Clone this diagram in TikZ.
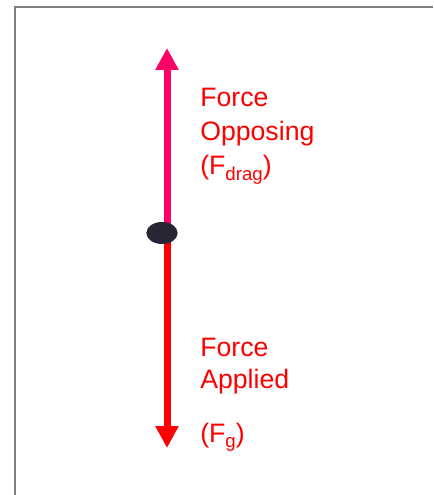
\documentclass[tikz,border=0pt]{standalone}
\usepackage{fontspec}
\setmainfont{Liberation Sans}
\usetikzlibrary{arrows.meta, positioning, shapes.geometric}
\definecolor{dragpink}{RGB}{255,0,102}
\definecolor{gravred}{RGB}{255,0,0}
\definecolor{ballnavy}{RGB}{38,38,52}
\definecolor{framegray}{RGB}{128,128,128}
\newcommand{\forcesub}[1]{\raisebox{-4pt}{\fontsize{14}{14}\selectfont #1}}

\begin{document}
\begin{tikzpicture}[
  x=0.75pt, y=-0.75pt,
  label/.style={anchor=base west, inner sep=0pt, align=left, text=gravred,
    font=\fontsize{20}{25.5}\selectfont},
  forcearrow/.style={line width=5.25pt, -{Triangle[length=16.5pt, width=16.5pt]}},
  ball/.style={ellipse, fill=ballnavy, minimum width=23.5pt, minimum height=16.5pt, inner sep=0pt}
]
  \useasboundingbox (0,0) rectangle (433,495);

  % Frame (cropped)
  \draw[framegray, line width=1.5pt] (15,495) -- (15,7.5) -- (433,7.5);

  % Body and arrow ends
  \coordinate (hub) at (167,233);
  \coordinate (up) at (167,48);
  \coordinate (down) at (167,448);

  % Arrows
  \draw[forcearrow, dragpink] (hub) -- (up);
  \draw[forcearrow, gravred] (hub) -- (down);

  \node[ball] (body) at (162,233) {};

  % Labels (anchored at the baseline of the last line)
  \node[label] (drag) at (200,175)
    {Force\\Opposing\\(F\forcesub{drag})};
  \node[label] (grav) at (200,442)
    {Force\\[-1.5pt]Applied\\[15pt](F\forcesub{g})};
\end{tikzpicture}
\end{document}
